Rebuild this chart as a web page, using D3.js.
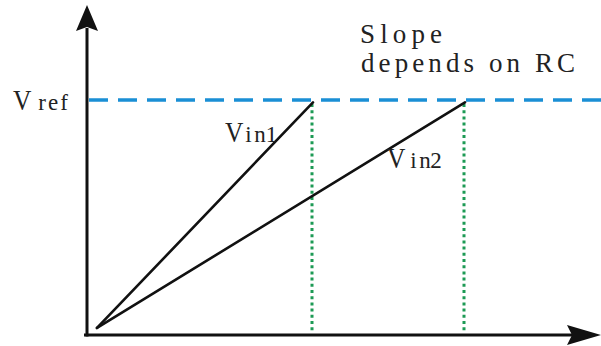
<!DOCTYPE html>
<html>
<head>
<meta charset="utf-8">
<script src="https://cdn.jsdelivr.net/npm/d3@7"></script>
<style>
  body { margin: 0; background: #fff; }
  svg { display: block; }
  text { font-family: "Liberation Serif", "DejaVu Serif", serif; fill: #222; }
</style>
</head>
<body>
<svg id="chart" width="601" height="346"></svg>
<script>
// ramp data (time units, normalized voltage: 1 = Vref)
var rampNames = ["Vin1", "Vin2"];
var rampStart = { t: 1, v: 0.03 };
var rampEndT = [22.6, 37.8];
var vref = 1;
var labelLines = ["Slope", "depends on RC"];

var svg = d3.select("#chart");

// 軸の範囲
var x = d3.scaleLinear().domain([0, 50]).range([87, 587]);
var y = d3.scaleLinear().domain([0, 1]).range([335, 100]);

var x0 = x(0), y0 = y(0);

// axes
svg.append("line")
  .attr("x1", x0).attr("y1", y0 + 1.5)
  .attr("x2", x0).attr("y2", 28)
  .attr("stroke", "#111").attr("stroke-width", 3);
svg.append("line")
  .attr("x1", x0 - 3).attr("y1", y0)
  .attr("x2", 572).attr("y2", y0)
  .attr("stroke", "#111").attr("stroke-width", 3);

// arrow heads
svg.append("path")
  .attr("d", "M" + x0 + ",5 L" + (x0 + 11) + ",31 L" + x0 + ",27 L" + (x0 - 11) + ",31 Z")
  .attr("fill", "#111");
svg.append("path")
  .attr("d", "M601," + y0 + " L567," + (y0 - 10) + " L572," + y0 + " L567," + (y0 + 10) + " Z")
  .attr("fill", "#111");

// Vref dashed level
svg.append("line")
  .attr("x1", x0 + 2).attr("y1", y(vref))
  .attr("x2", 601).attr("y2", y(vref))
  .attr("stroke", "#1a8fd5").attr("stroke-width", 3.5)
  .attr("stroke-dasharray", "19,10");

// green dotted verticals
svg.selectAll("line.drop")
  .data(rampEndT)
  .enter().append("line")
  .attr("class", "drop")
  .attr("x1", function(d){ return x(d) - 1; })
  .attr("x2", function(d){ return x(d) - 1; })
  .attr("y1", y(vref) + 4)
  .attr("y2", y0 - 2)
  .attr("stroke", "#1d9a55").attr("stroke-width", 3)
  .attr("stroke-dasharray", "3,3.2");

// ramps
var line = d3.line()
  .x(function(d){ return x(d.t); })
  .y(function(d){ return y(d.v); });

svg.selectAll("path.ramp")
  .data(rampEndT)
  .enter().append("path")
  .attr("class", "ramp")
  .attr("d", function(d){ return line([rampStart, { t: d, v: vref - 0.01 }]); })
  .attr("fill", "none")
  .attr("stroke", "#111").attr("stroke-width", 2.6)
  .attr("stroke-linecap", "round");

// labels: big V + spaced subscript letters (each letter centred at its own x)
function vLabel(px, py, subXs, sub) {
  svg.append("text")
    .attr("x", px).attr("y", py)
    .attr("font-size", 30)
    .attr("transform", "translate(" + px + "," + py + ") scale(0.85,1) translate(" + (-px) + "," + (-py) + ")")
    .text("V");
  svg.append("text")
    .attr("x", subXs.join(" ")).attr("y", py)
    .attr("font-size", 23)
    .attr("text-anchor", "middle")
    .text(sub);
}
vLabel(13, 110, [42, 53, 64], "ref");
vLabel(225, 142, [248.5, 260, 271.5], rampNames[0].slice(1));
vLabel(387, 168, [413.5, 425, 436], rampNames[1].slice(1));

svg.append("text")
  .attr("x", 360).attr("y", 43).attr("font-size", 27)
  .attr("textLength", 82).attr("lengthAdjust", "spacing")
  .text(labelLines[0]);
svg.append("text")
  .attr("x", 361).attr("y", 72).attr("font-size", 27)
  .attr("textLength", 214).attr("lengthAdjust", "spacing")
  .text(labelLines[1]);
</script>
</body>
</html>
